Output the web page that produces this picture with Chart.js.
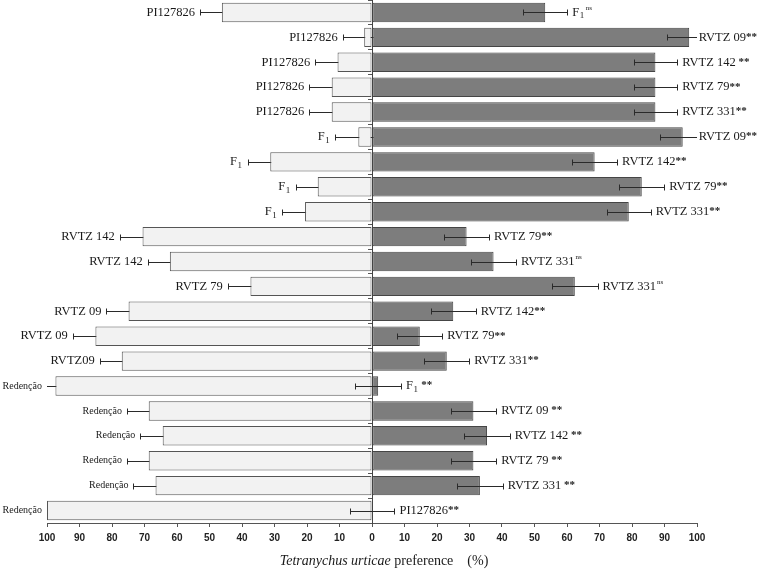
<!DOCTYPE html>
<html>
<head>
<meta charset="utf-8">
<script src="https://cdn.jsdelivr.net/npm/chart.js@4"></script>
<style>
  html, body { margin: 0; padding: 0; background: #fff; }
  #c { display: block; }
</style>
</head>
<body>
<canvas id="c" width="760" height="572"></canvas>
<script>
// ---- data ----
const leftLabels = ['PI127826','PI127826','PI127826','PI127826','PI127826','F1','F1','F1','F1',
  'RVTZ 142','RVTZ 142','RVTZ 79','RVTZ 09','RVTZ 09','RVTZ09',
  'Redenção','Redenção','Redenção','Redenção','Redenção','Redenção'];
const rightLabels = ['F1','RVTZ 09','RVTZ 142','RVTZ 79','RVTZ 331','RVTZ 09','RVTZ 142','RVTZ 79','RVTZ 331',
  'RVTZ 79','RVTZ 331','RVTZ 331','RVTZ 142','RVTZ 79','RVTZ 331',
  'F1','RVTZ 09','RVTZ 142','RVTZ 79','RVTZ 331','PI127826'];
const significance = ['ns','**',' **','**','**','**','**','**','**',
  '**','ns','ns','**','**','**',
  ' **',' **',' **',' **',' **','**'];
const categories = leftLabels.map((l, i) => l + ' x ' + rightLabels[i]);

const leftValues  = [46.2, 2.4, 10.6, 12.4, 12.4, 4.2, 31.3, 16.7, 20.6, 70.6, 62.2, 37.4, 74.9, 85.1, 77.0, 97.4, 68.7, 64.4, 68.7, 66.6, 100];
const leftErrors  = [6.7, 6.6, 6.9, 6.9, 6.9, 7.1, 7.0, 6.8, 7.0, 7.0, 6.8, 7.0, 6.8, 7.0, 6.8, 7.0, 6.7, 6.9, 6.7, 6.8, 7.0];
const rightValues = [53.3, 97.6, 87.2, 87.2, 87.2, 95.6, 68.5, 83.0, 79.0, 29.1, 37.4, 62.4, 25.0, 14.7, 23.0, 1.9, 31.2, 35.4, 31.2, 33.2, 0];
const rightErrors = [6.8, 6.9, 6.7, 6.7, 6.7, 7.0, 6.9, 6.9, 6.8, 6.9, 6.9, 7.0, 6.9, 6.9, 6.9, 7.0, 7.0, 7.0, 7.0, 7.0, 6.9];

const xTickValues = [-100, 100, 10]; // min, max, step
const axisTitleItalic = 'Tetranychus urticae';
const axisTitleRest = ' preference    (%)';

// ---- helpers ----
const SERIF = '"Liberation Serif", "Times New Roman", serif';

function drawErr(chart, di) {
  const ctx = chart.ctx, xs = chart.scales.x, area = chart.chartArea;
  const meta = chart.getDatasetMeta(di);
  const vals = di === 0 ? leftValues : rightValues;
  const errs = di === 0 ? leftErrors : rightErrors;
  const sign = di === 0 ? -1 : 1;
  ctx.save();
  ctx.beginPath();
  ctx.rect(area.left, area.top - 5, area.right - area.left, area.bottom - area.top + 10);
  ctx.clip();
  ctx.strokeStyle = '#2a2a2a';
  ctx.lineWidth = 1;
  meta.data.forEach((bar, i) => {
    const y = Math.round(bar.y) + 0.5;
    const x1 = Math.round(xs.getPixelForValue(sign * (vals[i] - errs[i]))) + 0.5;
    const x2 = Math.round(xs.getPixelForValue(sign * (vals[i] + errs[i]))) + 0.5;
    ctx.beginPath();
    ctx.moveTo(x1, y); ctx.lineTo(x2, y);
    ctx.moveTo(x1, y - 3); ctx.lineTo(x1, y + 3);
    ctx.moveTo(x2, y - 3); ctx.lineTo(x2, y + 3);
    ctx.stroke();
  });
  ctx.restore();
}

function measureLabel(ctx, text, size) {
  if (text === 'F1') {
    ctx.font = size + 'px ' + SERIF; const w1 = ctx.measureText('F').width;
    ctx.font = Math.round(size * 0.7) + 'px ' + SERIF; return w1 + ctx.measureText('1').width + 1;
  }
  ctx.font = size + 'px ' + SERIF; return ctx.measureText(text).width;
}
function drawMain(ctx, text, x, y, size) {
  if (text === 'F1') {
    ctx.font = size + 'px ' + SERIF; ctx.fillText('F', x, y);
    const w1 = ctx.measureText('F').width;
    ctx.font = Math.round(size * 0.7) + 'px ' + SERIF; ctx.fillText('1', x + w1 + 0.5, y + 3.5);
    return x + w1 + ctx.measureText('1').width + 1;
  }
  ctx.font = size + 'px ' + SERIF; ctx.fillText(text, x, y);
  return x + ctx.measureText(text).width;
}
function measureSig(ctx, sig) {
  if (sig === 'ns') { ctx.font = '7px ' + SERIF; return ctx.measureText('ns').width + 1; }
  ctx.font = 'bold 11px ' + SERIF; return ctx.measureText(sig).width;
}
function drawSig(ctx, sig, x, y) {
  if (sig === 'ns') { ctx.font = '7px ' + SERIF; ctx.fillText('ns', x + 1, y - 4); return; }
  ctx.font = 'bold 11px ' + SERIF; ctx.fillText(sig, x, y - 0.5);
}

function drawLabels(chart) {
  const ctx = chart.ctx, xs = chart.scales.x, area = chart.chartArea;
  const metaL = chart.getDatasetMeta(0), metaR = chart.getDatasetMeta(1);
  ctx.save();
  ctx.fillStyle = '#1a1a1a';
  ctx.textBaseline = 'middle';
  ctx.textAlign = 'left';
  // left labels
  metaL.data.forEach((bar, i) => {
    const text = leftLabels[i];
    const size = text === 'Redenção' ? 10 : 12.5;
    const tip = Math.max(xs.getPixelForValue(-(leftValues[i] + leftErrors[i])), area.left);
    const w = measureLabel(ctx, text, size);
    drawMain(ctx, text, tip - 5 - w, bar.y, size);
  });
  // right labels
  metaR.data.forEach((bar, i) => {
    const text = rightLabels[i];
    const size = 12.5;
    const tip = Math.min(xs.getPixelForValue(rightValues[i] + rightErrors[i]), area.right);
    const w = measureLabel(ctx, text, size) + measureSig(ctx, significance[i]);
    let x = Math.min(tip + 5, chart.width - 3 - w);
    const xe = drawMain(ctx, text, x, bar.y, size);
    drawSig(ctx, significance[i], xe, bar.y);
  });
  // axis title
  ctx.font = 'italic 14px ' + SERIF;
  const wi = ctx.measureText(axisTitleItalic).width;
  ctx.font = '14px ' + SERIF;
  const wr = ctx.measureText(axisTitleRest).width;
  const cx = (area.left + area.right) / 2 + 12;
  let sx = cx - (wi + wr) / 2;
  ctx.font = 'italic 14px ' + SERIF;
  ctx.fillText(axisTitleItalic, sx, 561);
  ctx.font = '14px ' + SERIF;
  ctx.fillText(axisTitleRest, sx + wi, 561);
  ctx.restore();
}

const overlay = {
  id: 'overlay',
  beforeDatasetsDraw(chart) { drawErr(chart, 0); },
  afterDatasetsDraw(chart) { drawErr(chart, 1); drawLabels(chart); }
};

new Chart(document.getElementById('c'), {
  type: 'bar',
  data: {
    labels: categories,
    datasets: [
      {
        data: leftValues.map(v => -v),
        backgroundColor: '#f2f2f2',
        borderColor: '#555555',
        borderWidth: 1,
        borderSkipped: false,
        barPercentage: 0.78,
        categoryPercentage: 1.0
      },
      {
        data: rightValues,
        backgroundColor: '#7d7d7d',
        borderColor: '#454545',
        borderWidth: 1,
        borderSkipped: false,
        barPercentage: 0.78,
        categoryPercentage: 1.0
      }
    ]
  },
  options: {
    indexAxis: 'y',
    responsive: false,
    animation: false,
    devicePixelRatio: 1,
    layout: { padding: { left: 47, right: 63, top: 0, bottom: 0 } },
    plugins: { legend: { display: false }, tooltip: { enabled: false }, title: { display: false } },
    scales: {
      x: {
        type: 'linear',
        min: xTickValues[0], max: xTickValues[1],
        stacked: true,
        ticks: {
          stepSize: xTickValues[2],
          autoSkip: false, maxRotation: 0,
          callback: v => Math.abs(v),
          font: { family: '"Liberation Sans", Arial, sans-serif', weight: 'bold', size: 10 },
          color: '#222',
          padding: 5
        },
        grid: { drawOnChartArea: false, drawTicks: true, tickLength: 4, color: '#555' },
        border: { display: true, color: '#555' },
        afterFit: s => { s.height = 49; }
      },
      y: {
        type: 'category',
        stacked: true,
        offset: true,
        position: { x: 0 },
        ticks: { display: false },
        grid: { offset: true, drawOnChartArea: false, drawTicks: true, tickLength: 4, color: '#555' },
        border: { display: true, color: '#444' }
      }
    }
  },
  plugins: [overlay]
});
</script>
</body>
</html>
